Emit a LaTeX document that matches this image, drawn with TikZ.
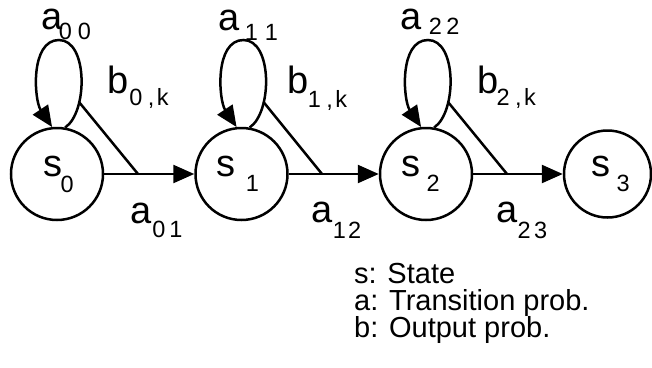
\documentclass[tikz,border=0pt]{standalone}
\usepackage{fontspec}
\setmainfont{Liberation Sans}
\usetikzlibrary{arrows.meta,calc}
\newcommand\mainf{\fontsize{38bp}{40bp}\selectfont}
\newcommand\subf{\fontsize{23.5bp}{24bp}\selectfont}
\newcommand\legf{\fontsize{29bp}{27bp}\selectfont}
% #1 letter, #2 kern before subscript, #3 drop of subscript, #4 subscript
\newcommand\lbl[4]{\mainf #1\kern#2bp\raisebox{-#3bp}{\subf #4}}
\tikzset{
  state/.style={circle,draw,line width=2.5bp,minimum size=92bp,inner sep=0pt},
  line/.style={line width=2.5bp},
  arr/.style={line width=2.5bp,-{Triangle[length=21bp,width=18bp]}},
  lab/.style={anchor=base west,inner sep=0pt},
}
\newcommand\selfloop[1]{%
  \draw[arr] (#1.80) .. controls ($(#1.center)+(31,-62)$) and ($(#1.center)+(31,-134)$) ..
    ($(#1.center)+(2,-134)$) .. controls ($(#1.center)+(-27,-134)$) and ($(#1.center)+(-23,-74)$) .. (#1.96);}
\begin{document}
\begin{tikzpicture}[x=1bp,y=-1bp]
\useasboundingbox (0,0) rectangle (652,367);
% states
\node[state] (s0) at (57,174) {\kern3bp\lbl{s}{-1.7}{16}{0}};
\node[state] (s1) at (241.5,174) {\lbl{s}{10.8}{15}{1}\kern8bp};
\node[state] (s2) at (426,174) {\lbl{s}{6.5}{15}{2}\kern11bp};
\node[state,minimum size=87bp] (s3) at (607.5,174) {\kern6bp\lbl{s}{6.3}{15}{3}};
% transitions
\draw[arr] (s0) -- (s1);
\draw[arr] (s1) -- (s2);
\draw[arr] (s2) -- (s3);
% self loops
\selfloop{s0}
\selfloop{s1}
\selfloop{s2}
% output probability strokes
\coordinate (b0a) at (79,102);  \coordinate (b0b) at (138,174);
\coordinate (b1a) at (263.5,102); \coordinate (b1b) at (322,174);
\coordinate (b2a) at (448,102); \coordinate (b2b) at (507,174);
\draw[line] (b0a) -- (b0b);
\draw[line] (b1a) -- (b1b);
\draw[line] (b2a) -- (b2b);
% labels
\node[lab] (a00) at (41.6,29)  {\lbl{a}{-4}{10}{0\kern6bp 0}};
\node[lab] (a01) at (130.6,223) {\lbl{a}{0.4}{14}{0\kern4bp 1}};
\node[lab] (b0k) at (107.5,93) {\lbl{b}{0.5}{12}{0\kern5.5bp,\kern2.5bp k}};
\node[lab] (a11) at (218.6,30) {\lbl{a}{4.9}{10}{1\kern7bp 1}};
\node[lab] (b1k) at (287.5,93) {\lbl{b}{-1}{14}{1\kern5.5bp,\kern2.5bp k}};
\node[lab] (a12) at (311.6,222) {\lbl{a}{0}{16}{1\kern2bp 2}};
\node[lab] (a22) at (400.6,29) {\lbl{a}{7}{5}{2\kern4.5bp 2}};
\node[lab] (b2k) at (477.5,93) {\lbl{b}{-2.3}{12}{2\kern5.5bp,\kern2.5bp k}};
\node[lab] (a23) at (496.6,222) {\lbl{a}{-0.4}{16}{2\kern3.5bp 3}};
% legend
\node[lab] (leg1) at (354,283) {\legf s: State};
\node[lab] (leg2) at (354,310) {\legf a: Transition prob.};
\node[lab] (leg3) at (354,337) {\legf b: Output prob.};
\end{tikzpicture}
\end{document}
